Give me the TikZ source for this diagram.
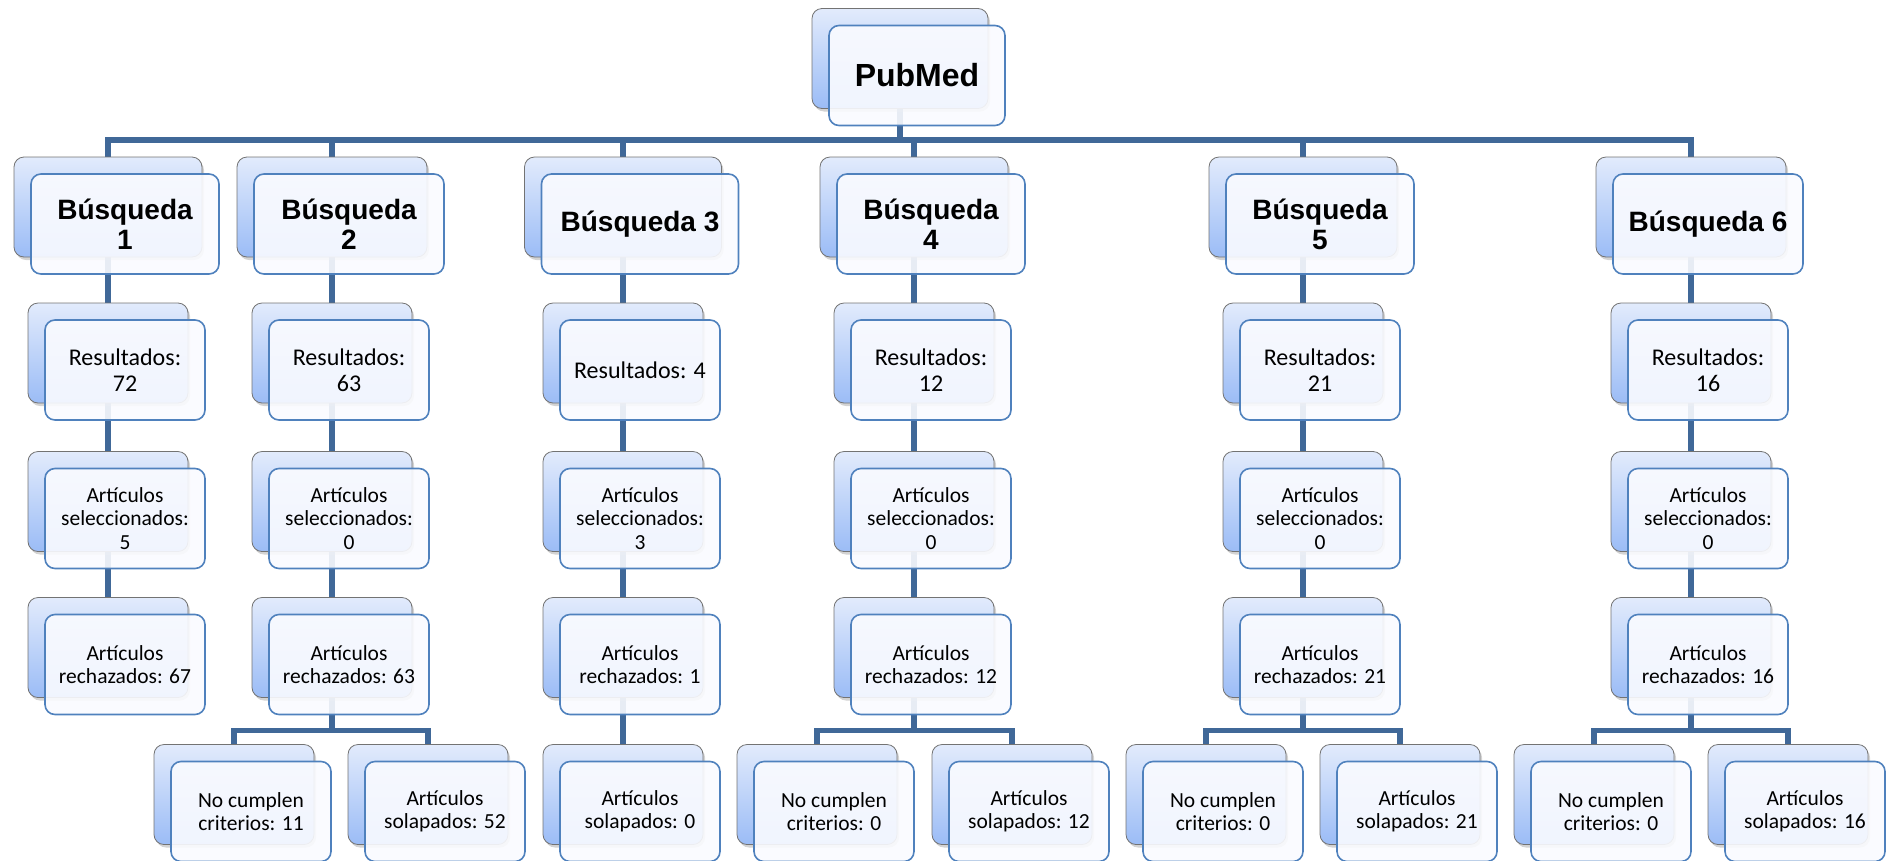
\documentclass[tikz,border=0pt]{standalone}
\usepackage{fontspec}
\setmainfont{Carlito}
\newfontfamily\arialfam{Liberation Sans}
\usetikzlibrary{shadows,backgrounds}
\definecolor{fondoarriba}{RGB}{226,235,252}
\definecolor{fondoabajo}{RGB}{155,188,246}
\definecolor{bordefondo}{RGB}{115,115,115}
\definecolor{bordefrente}{RGB}{79,129,189}
\definecolor{rellenofrente}{RGB}{250,251,255}
\definecolor{enlazul}{RGB}{64,104,152}
\newcommand\letrapub{\arialfam\bfseries\fontsize{32}{36}\selectfont}
\newcommand\letrabus{\arialfam\bfseries\fontsize{28}{30}\selectfont}
\newcommand\letrares{\fontsize{24}{26}\selectfont}
\newcommand\letraart{\fontsize{21.5}{23.5}\selectfont}

\begin{document}
\begin{tikzpicture}[x=1pt,y=-1pt,
    fondo/.style={draw=bordefondo,line width=0.8pt,rounded corners=10pt,
      top color=fondoarriba,bottom color=fondoabajo,minimum height=100pt,
      inner sep=0pt,outer sep=0pt,
      drop shadow={shadow xshift=2pt,shadow yshift=-3pt,opacity=0.35}},
    frente/.style={draw=bordefrente,line width=1.6pt,rounded corners=10pt,
      fill=rellenofrente,fill opacity=0.9,text opacity=1,
      minimum height=100pt,inner sep=0pt,align=center},
    enlace/.style={draw=enlazul,line width=5.5pt}]
\useasboundingbox (0,0) rectangle (1890,860);
\foreach \n/\x/\y/\w/\f/\t in {
    pm/900/58.5/176/\letrapub/PubMed,
    b1/108/207/188/\letrabus/{Búsqueda\\1},
    b2/332/207/190/\letrabus/{Búsqueda\\2},
    b3/623/207/197/\letrabus/{Búsqueda 3},
    b4/914/207/188/\letrabus/{Búsqueda\\4},
    b5/1303/207/188/\letrabus/{Búsqueda\\5},
    b6/1691/207/190/\letrabus/{Búsqueda 6},
    r1/108/353/160/\letrares/{Resultados:\\72},
    r2/332/353/160/\letrares/{Resultados:\\63},
    r3/623/353/160/\letrares/{Resultados: 4},
    r4/914/353/160/\letrares/{Resultados:\\12},
    r5/1303/353/160/\letrares/{Resultados:\\21},
    r6/1691/353/160/\letrares/{Resultados:\\16},
    s1/108/501.5/160/\letraart/{Artículos\\seleccionados:\\5},
    s2/332/501.5/160/\letraart/{Artículos\\seleccionados:\\0},
    s3/623/501.5/160/\letraart/{Artículos\\seleccionados:\\3},
    s4/914/501.5/160/\letraart/{Artículos\\seleccionados:\\0},
    s5/1303/501.5/160/\letraart/{Artículos\\seleccionados:\\0},
    s6/1691/501.5/160/\letraart/{Artículos\\seleccionados:\\0},
    x1/108/647.5/160/\letraart/{Artículos\\rechazados: 67},
    x2/332/647.5/160/\letraart/{Artículos\\rechazados: 63},
    x3/623/647.5/160/\letraart/{Artículos\\rechazados: 1},
    x4/914/647.5/160/\letraart/{Artículos\\rechazados: 12},
    x5/1303/647.5/160/\letraart/{Artículos\\rechazados: 21},
    x6/1691/647.5/160/\letraart/{Artículos\\rechazados: 16},
    n2/234/794.5/160/\letraart/{No cumplen\\criterios: 11},
    o2/428/794.5/160/\letraart/{Artículos\\solapados: 52},
    o3/623/794.5/160/\letraart/{Artículos\\solapados: 0},
    n4/817/794.5/160/\letraart/{No cumplen\\criterios: 0},
    o4/1012/794.5/160/\letraart/{Artículos\\solapados: 12},
    n5/1206/794.5/160/\letraart/{No cumplen\\criterios: 0},
    o5/1400/794.5/160/\letraart/{Artículos\\solapados: 21},
    n6/1594/794.5/160/\letraart/{No cumplen\\criterios: 0},
    o6/1788/794.5/160/\letraart/{Artículos\\solapados: 16}}{
  \node[fondo,minimum width=\w pt] (\n) at (\x,\y) {};
  \node[frente,minimum width=\w pt,font=\f] (\n f) at (\x+17,\y+17) {\t};
}
\begin{scope}[on background layer]
  \coordinate (barra) at (900,140);
  \draw[enlace] (pm.south) -- (barra);
  \foreach \b in {b1,b2,b3,b4,b5,b6}
    \draw[enlace] (barra) -| (\b.north);
  \foreach \a/\b in {b1/r1,r1/s1,s1/x1,b2/r2,r2/s2,s2/x2,b3/r3,r3/s3,s3/x3,x3/o3,
      b4/r4,r4/s4,s4/x4,b5/r5,r5/s5,s5/x5,b6/r6,r6/s6,s6/x6}
    \draw[enlace] (\a.south) -- (\b.north);
  \foreach \a/\b in {x2/n2,x2/o2,x4/n4,x4/o4,x5/n5,x5/o5,x6/n6,x6/o6}
    \draw[enlace] (\a.south) -- ++(0,33) -| (\b.north);
\end{scope}
\end{tikzpicture}
\end{document}
